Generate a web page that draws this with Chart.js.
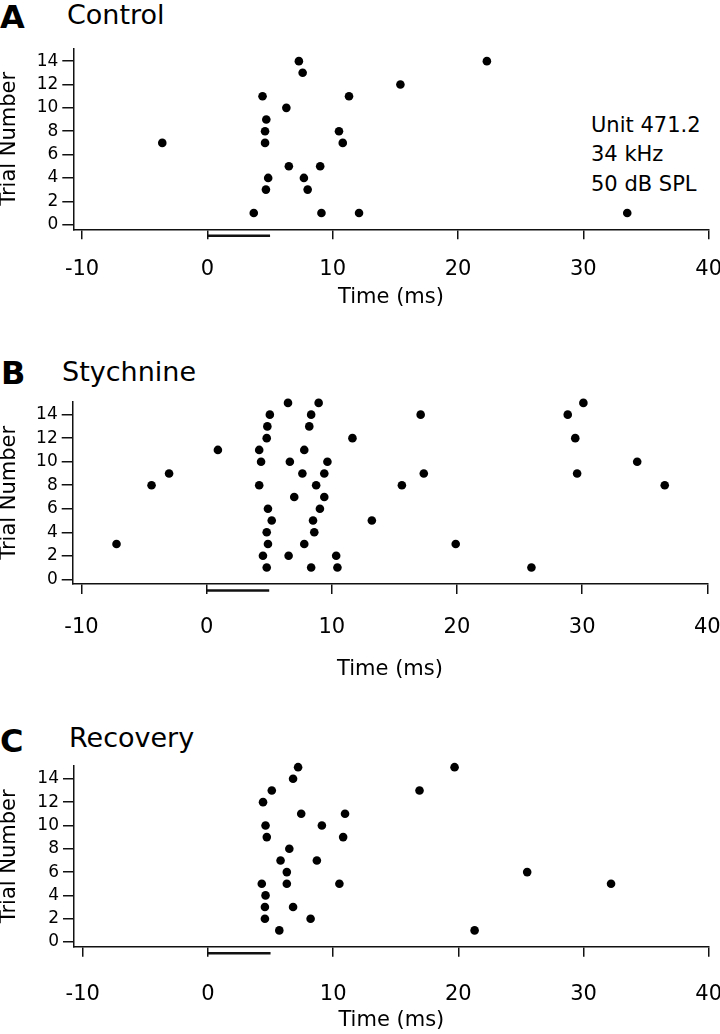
<!DOCTYPE html>
<html>
<head>
<meta charset="utf-8">
<title>Raster plots</title>
<script src="https://cdn.jsdelivr.net/npm/chart.js@4.4.0/dist/chart.umd.min.js"></script>
<style>
    html, body { margin: 0; padding: 0; background: #fff; width: 720px; height: 1034px; overflow: hidden; }
    body { position: relative; font-family: 'DejaVu Sans', sans-serif; color: #000; }
    canvas { position: absolute; left: 0; }
    .lbl { position: absolute; line-height: 1; white-space: nowrap; }
    .letter { font-weight: bold; font-size: 32px; }
    .cond { font-size: 27px; }
    .note { position: absolute; left: 591px; top: 111px; font-size: 21px; line-height: 29.3px; white-space: nowrap; }
</style>
</head>
<body>
<div class="lbl letter" style="left:0px; top:1px;">A</div>
<div class="lbl cond" style="left:67px; top:1px;">Control</div>
<div class="note">Unit 471.2<br>34 kHz<br>50 dB SPL</div>
<canvas id="chartA"></canvas>

<div class="lbl letter" style="left:1px; top:357px;">B</div>
<div class="lbl cond" style="left:62px; top:358px;">Stychnine</div>
<canvas id="chartB"></canvas>

<div class="lbl letter" style="left:0px; top:725px;">C</div>
<div class="lbl cond" style="left:69px; top:724px;">Recovery</div>
<canvas id="chartC"></canvas>

<script>
// tick values and stimulus window (ms)
const xTicks = [-10, 0, 10, 20, 30, 40];
const yTicks = [0, 2, 4, 6, 8, 10, 12, 14];
const stimulusMs = [0, 5];

// spike times (ms) and trial numbers
const controlTimes  = [-3.6, 3.7, 4.4, 4.7, 4.6, 4.6, 4.85, 4.67, 6.3, 6.5, 7.3, 7.6, 7.7, 8.0, 9.0, 9.1, 10.5, 10.8, 11.3, 12.1, 15.4, 22.3, 33.5];
const controlTrials = [7, 1, 11, 9, 8, 7, 4, 3, 10, 5, 14, 13, 4, 3, 5, 1, 8, 7, 11, 1, 12, 14, 1];

const strychTimes  = [-7.2, -4.4, -3.0, 0.9, 4.2, 4.35, 4.2, 4.8, 4.85, 5.05, 4.5, 4.8, 4.9, 4.8, 4.9, 5.2,
                      6.5, 6.65, 6.55, 7.0, 7.8, 7.65, 7.8, 8.35, 8.2, 8.95, 8.75, 8.5, 8.6, 8.35, 9.05, 9.4,
                      9.4, 9.65, 10.35, 10.45, 11.65, 13.2, 15.6, 17.1, 17.35, 19.9, 25.95, 28.85, 30.1, 29.45,
                      29.6, 34.4, 36.6];
const strychTrials = [3, 8, 9, 11, 11, 10, 8, 12, 13, 14, 2, 1, 3, 4, 6, 5,
                      15, 10, 2, 7, 11, 9, 3, 14, 13, 15, 8, 5, 4, 1, 6, 7,
                      9, 10, 2, 1, 12, 5, 8, 14, 9, 3, 1, 14, 15, 12,
                      9, 10, 8];

const recoveryTimes  = [7.2, 6.8, 5.1, 4.4, 7.45, 10.95, 4.6, 9.1, 4.7, 10.8, 6.5, 5.8, 8.7, 6.3, 6.3, 4.3,
                        10.5, 4.6, 4.55, 6.8, 4.55, 8.2, 5.7, 16.9, 19.7, 25.5, 32.2, 21.3];
const recoveryTrials = [15, 14, 13, 12, 11, 11, 10, 10, 9, 9, 8, 7, 7, 6, 5, 5,
                        5, 4, 3, 3, 2, 2, 1, 13, 15, 6, 5, 1];

const ink = '#111';

// draws the 0-5 ms stimulus bar just under the time axis
const stimulusBar = {
    id: 'stimulusBar',
    afterDraw(chart) {
        const { ctx, chartArea, scales } = chart;
        const y = chartArea.bottom + 6.5;
        ctx.save();
        ctx.strokeStyle = ink;
        ctx.lineWidth = 2.5;
        ctx.beginPath();
        ctx.moveTo(scales.x.getPixelForValue(stimulusMs[0]), y);
        ctx.lineTo(scales.x.getPixelForValue(stimulusMs[1]), y);
        ctx.stroke();
        ctx.restore();
    }
};

function makeRaster(id, times, trials, L) {
    const canvas = document.getElementById(id);
    const canvasTop = Math.floor(L.top) - 10;
    const padTop = L.top - canvasTop;
    const areaH = L.bottom - L.top;
    const height = Math.min(Math.ceil(padTop + areaH + L.titleH + 3), 1034 - canvasTop);
    canvas.width = 720;
    canvas.height = height;
    canvas.style.top = canvasTop + 'px';

    return new Chart(canvas.getContext('2d'), {
        type: 'scatter',
        data: {
            datasets: [{
                data: times.map((t, i) => ({ x: t, y: trials[i] })),
                pointRadius: 4.3,
                pointHoverRadius: 4.3,
                backgroundColor: '#000',
                borderWidth: 0,
                clip: false
            }]
        },
        options: {
            responsive: false,
            animation: false,
            layout: { padding: { left: 0, top: padTop, right: 720 - L.right, bottom: height - padTop - areaH - L.titleH } },
            plugins: { legend: { display: false }, tooltip: { enabled: false } },
            scales: {
                x: {
                    type: 'linear',
                    min: -10.7,
                    max: 40,
                    afterBuildTicks: s => { s.ticks = xTicks.map(v => ({ value: v })); },
                    afterFit: s => { s.height = L.titleH; s.paddingLeft = 0; s.paddingRight = 0; },
                    border: { display: true, color: ink, width: 1.5 },
                    grid: { drawOnChartArea: false, drawTicks: true, tickLength: 10, color: ink, lineWidth: 1.5 },
                    ticks: { padding: L.tickPad, color: '#000', font: { size: 21 }, maxRotation: 0 },
                    title: { display: true, text: 'Time (ms)', color: '#000', font: { size: 21 }, padding: 0 }
                },
                y: {
                    type: 'linear',
                    min: -0.4,
                    max: 15.1,
                    afterBuildTicks: s => { s.ticks = yTicks.map(v => ({ value: v })); },
                    afterFit: s => { s.width = L.left; s.paddingTop = 0; s.paddingBottom = 0; },
                    border: { display: true, color: ink, width: 1.5 },
                    grid: { drawOnChartArea: false, drawTicks: true, tickLength: 11, color: ink, lineWidth: 1.5 },
                    ticks: { padding: 4, color: '#000', font: { size: 17 } },
                    title: { display: true, text: 'Trial Number', color: '#000', font: { size: 21, lineHeight: 0.72 }, padding: { top: 2, bottom: 0 } }
                }
            }
        },
        plugins: [stimulusBar]
    });
}

Chart.defaults.font.family = "'DejaVu Sans', sans-serif";

makeRaster('chartA', controlTimes, controlTrials,
    { top: 48.3, bottom: 229.3, left: 73.3, right: 708.7, tickPad: 17.6, titleH: 81.3 });
makeRaster('chartB', strychTimes, strychTrials,
    { top: 401.7, bottom: 584, left: 72.7, right: 707.3, tickPad: 21.4, titleH: 98.6 });
makeRaster('chartC', recoveryTimes, recoveryTrials,
    { top: 766, bottom: 946.7, left: 74, right: 708.7, tickPad: 25.7, titleH: 86 });
</script>
</body>
</html>
